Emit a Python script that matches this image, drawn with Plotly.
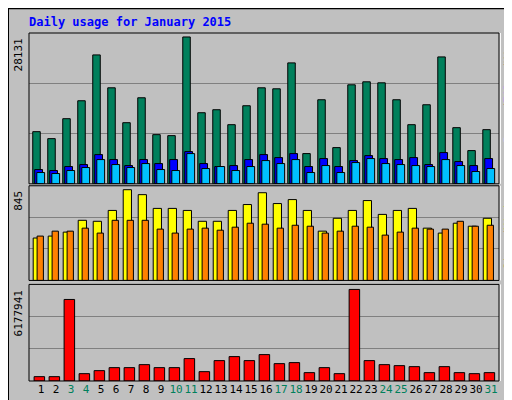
import plotly.graph_objects as go
from plotly.subplots import make_subplots

days = list(range(1, 32))
weekend = [3, 4, 10, 11, 17, 18, 24, 25, 31]
hits = [9992, 8656, 12474, 15911, 24694, 18393, 11711, 16484, 9419, 9229, 28131, 13620, 14193, 11329, 14957, 18393,
        18202, 23167, 5792, 16102, 6937, 18966, 19539, 19348, 16102, 11329, 15147, 24312, 10756, 6365, 10374]
files = [2737, 2546, 3310, 3691, 5601, 4646, 3500, 4646, 3882, 4646, 6174, 3882, 3310, 3500, 4646, 5601,
         5028, 5792, 3310, 4837, 3310, 4455, 5410, 4837, 4646, 5028, 3691, 5983, 4264, 3500, 4837]
pages = [2164, 1973, 2546, 3119, 4646, 3691, 3119, 3882, 2737, 2546, 5792, 2928, 3310, 2546, 3310, 4455,
         3882, 4646, 2164, 3500, 2164, 4073, 4837, 3882, 3691, 3500, 3310, 4646, 3500, 2355, 2928]
visits = [395, 413, 450, 560, 551, 652, 845, 799, 671, 671, 652, 551, 551, 652, 707, 817,
          716, 753, 652, 459, 579, 652, 744, 615, 652, 671, 487, 441, 533, 505, 579]
sites = [413, 459, 459, 487, 441, 560, 560, 560, 478, 441, 478, 487, 468, 496, 533, 524,
         487, 514, 505, 441, 459, 505, 496, 422, 450, 487, 478, 478, 551, 505, 514]
kbytes = [293000, 293000, 5501000, 496000, 699000, 902000, 902000, 1105000, 902000, 902000, 1511000, 631000,
          1375000, 1646000, 1375000, 1781000, 1172000, 1240000, 564000, 902000, 496000, 6177941, 1375000,
          1105000, 1037000, 970000, 564000, 970000, 564000, 496000, 564000]
max_hits, max_visits, max_kb = 28131, 845, 6177941

fig = make_subplots(rows=3, cols=1, shared_xaxes=False)
ln = dict(color="black", width=1)
def bar(y, color, off, w, row):
    fig.add_trace(go.Bar(x=days, y=y, marker=dict(color=color, line=ln), offset=off, width=w), row=row, col=1)

bar(hits, "#00805c", -0.55, 0.5, 1)
bar(files, "#0000ff", -0.42, 0.52, 1)
bar(pages, "#00c0ff", -0.28, 0.52, 1)
bar(visits, "#ffff00", -0.52, 0.55, 2)
bar(sites, "#ff8000", -0.26, 0.42, 2)
bar(kbytes, "#ff0000", -0.46, 0.7, 3)

fig.update_layout(width=512, height=400, margin=dict(l=21, r=21, t=25, b=22),
                  paper_bgcolor="#c0c0c0", plot_bgcolor="#c0c0c0", showlegend=False, barmode="overlay",
                  font=dict(family="DejaVu Sans Mono", size=11, color="black"))
doms = [[0.5666, 1.0], [0.289, 0.561], [0.0, 0.2776]]
ranges = [max_hits * 152 / 148, max_visits * 96 / 92, max_kb * 96 / 91]
for i in range(3):
    r = ranges[i]
    sfx = '' if i == 0 else str(i + 1)
    fig.update_yaxes(domain=doms[i], range=[0, r], tickvals=[r / 3, 2 * r / 3], showticklabels=False,
                     gridcolor="#808080", gridwidth=1, zeroline=False, row=i + 1, col=1)
    fig.update_xaxes(range=[0.2, 31.53], showgrid=False, zeroline=False, row=i + 1, col=1,
                     showticklabels=(i == 2), ticks="", tickangle=0)
    fig.add_shape(type="rect", xref=f"x{sfx} domain", yref=f"y{sfx} domain",
                  x0=0, x1=1, y0=0, y1=1, line=dict(color="black", width=1))
    fig.add_shape(type="line", xref=f"x{sfx} domain", yref=f"y{sfx} domain",
                  x0=1.003, x1=1.003, y0=0, y1=1, line=dict(color="white", width=1))

ticktext = [f"<span style='color:#00805c'>{d}</span>" if d in weekend else str(d) for d in days]
fig.update_xaxes(tickvals=days, ticktext=ticktext, tickfont=dict(size=11), tickangle=0, row=3, col=1)

fig.add_annotation(text="<b>Daily usage for January 2015</b>", xref="paper", yref="paper", x=-0.005, y=1.0,
                   xanchor="left", yanchor="bottom", yshift=2, showarrow=False,
                   font=dict(color="#0000ff", size=12, family="DejaVu Sans Mono"))
for lab, y in [(str(max_hits), 1.0), (str(max_visits), 0.561), (str(max_kb), 0.2776)]:
    fig.add_annotation(text=lab, xref="paper", yref="paper", x=0, y=y - 0.01, xanchor="right", yanchor="top",
                       textangle=-90, showarrow=False, xshift=-2, font=dict(size=11))
sl = "<span style='color:black'>/</span>"
legs = [("<span style='color:#00c0ff'>Pages</span>" + sl + "<span style='color:#0000ff'>Files</span>" + sl +
         "<span style='color:#00805c'>Hits</span>", 0.995),
        ("<span style='color:#ff8000'>Sites</span>" + sl + "<span style='color:#ffff00'>Visits</span>", 0.556),
        ("<span style='color:#ff0000'>KBytes</span>", 0.27)]
for t, y in legs:
    fig.add_annotation(text=t, xref="paper", yref="paper", x=1 + 10 / 470, y=y, xanchor="center", yanchor="top",
                       textangle=-90, showarrow=False, font=dict(size=11))
fig.add_shape(type="rect", xref="paper", yref="paper", x0=-21/470, x1=1+21/470, y0=-22/353, y1=1+25/353,
              line=dict(color="black", width=2))
fig.write_html("out.html")
